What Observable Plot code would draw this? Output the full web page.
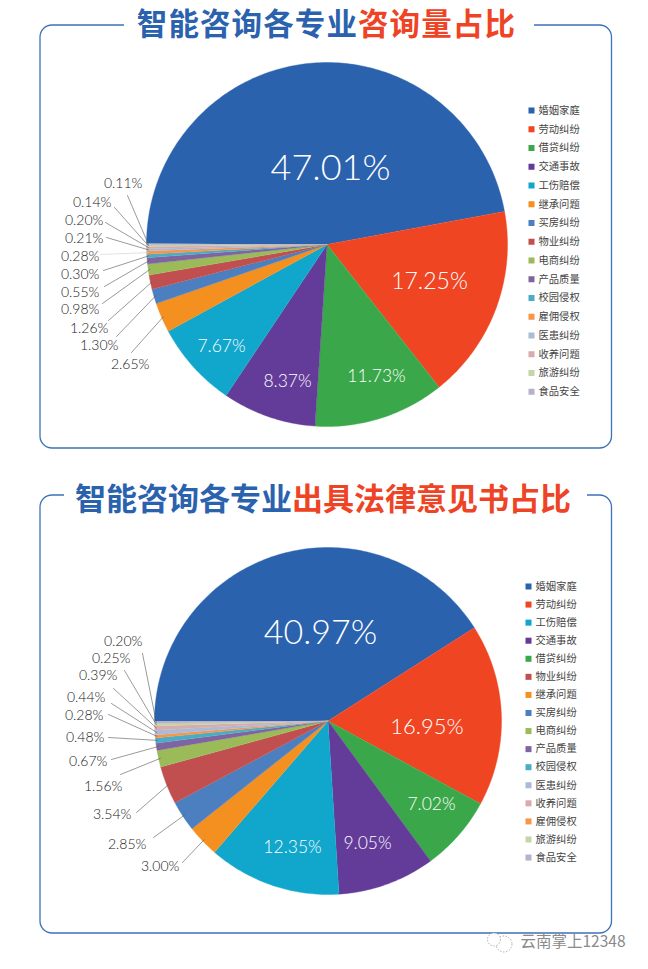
<!DOCTYPE html>
<html><head><meta charset="utf-8">
<style>
html,body{margin:0;padding:0;background:#fff}
#chart{position:relative;width:648px;height:969px;overflow:hidden}
.title{position:absolute;white-space:nowrap;font-family:'Noto Sans CJK SC',sans-serif;font-weight:700;color:#2b62ae}
.title span{color:#ee4425}
</style>
<script src="https://cdn.jsdelivr.net/npm/d3@7"></script>
<script src="https://cdn.jsdelivr.net/npm/@observablehq/plot@0.6"></script>
</head><body><div id="chart">
<div class="title" style="left:136.8px;top:7px;font-size:30.5px;line-height:30.5px;letter-spacing:1.1px">智能咨询各专业<span>咨询量占比</span></div>
<div class="title" style="left:75px;top:481px;font-size:31px;line-height:31px">智能咨询各专业<span>出具法律意见书占比</span></div>
</div>
<script>
// ---- data
const pieOrderA = ["婚姻家庭","劳动纠纷","借贷纠纷","交通事故","工伤赔偿","继承问题","买房纠纷","物业纠纷","电商纠纷","产品质量","校园侵权","雇佣侵权","医患纠纷","收养问题","旅游纠纷","食品安全"];
const valuesA = [47.01,17.25,11.73,8.37,7.67,2.65,1.30,1.26,0.98,0.55,0.30,0.28,0.21,0.20,0.14,0.11];
const pieOrderB = ["婚姻家庭","劳动纠纷","借贷纠纷","交通事故","工伤赔偿","继承问题","买房纠纷","物业纠纷","电商纠纷","产品质量","校园侵权","雇佣侵权","医患纠纷","收养问题","旅游纠纷","食品安全"];
const valuesB = [40.97,16.95,7.02,9.05,12.35,3.00,2.85,3.54,1.56,0.67,0.48,0.28,0.44,0.39,0.25,0.20];
const legendA = pieOrderA;
const legendB = ["婚姻家庭","劳动纠纷","工伤赔偿","交通事故","借贷纠纷","物业纠纷","继承问题","买房纠纷","电商纠纷","产品质量","校园侵权","医患纠纷","收养问题","雇佣侵权","旅游纠纷","食品安全"];
const palette = ["#2b62ae","#f04523","#3aa84a","#633b98","#11a6cb","#f39020","#4c7fc0","#c24f4f","#9bbb59","#8064a2","#4bacc6","#f79646","#aabbd6","#d9aaae","#c5d5a5","#b8b0cc"];

// ---- layout of the annotations (pixels on the page)
const pieA = {cx:326.5, cy:244, rx:180.5, ry:182, start:-89.7};
const pieB = {cx:327.5, cy:720.5, rx:173.5, ry:173.5, start:-90};
const innerA = [[330,168,36],[429,281,23],[376,376,17.5],[287,381,17.5],[221,346,17.5]];
const innerB = [[320,633,34],[426.5,726,22],[431,804,17.5],[367,843,17.5],[292,847,17.5]];
// right edge x, centre y, leader start x, leader start y; listed top to bottom
const outerA = [[142,183,127,195],[111,202,114,207],[103,220,105,222],[103,238,106,237],[99,256,100,254],[99,274,103,270],[99,292,104,286],[99,309,102,303],[108,328,108,320],[118,345,116,336],[149,364,131,352]];
const outerB = [[142,641,142,653],[130,658,124,670],[117,675,113,688],[105,697,111,703],[103,715,108,714],[104,737,108,737],[107,761,111,759],[122,786,120,774],[131,814,136,812],[146,844,153,837],[179,866,182,862]];
const legendPosA = {sx:531, tx:538, y0:110, dy:18.75};
const legendPosB = {sx:528, tx:535, y0:586, dy:18.07};

const latin = "Lato, 'Noto Sans', sans-serif";
const cjk = "'Noto Sans CJK SC', sans-serif";
const fmt = v => v.toFixed(2) + "%";

function layoutPie(names, values, p) {
  const s0 = p.start*Math.PI/180;
  const arcs = d3.pie().sort(null).startAngle(s0).endAngle(s0 + 2*Math.PI)(values);
  const at = (a, k) => [p.cx + k*p.rx*Math.sin(a), p.cy - k*p.ry*Math.cos(a)];
  const poly = [], mids = [];
  arcs.forEach((s, i) => {
    const name = names[i];
    poly.push({name, k:i, xy:[p.cx,p.cy]});
    const n = Math.max(2, Math.ceil((s.endAngle - s.startAngle)*60));
    for (let j = 0; j <= n; j++) {
      const a = s.startAngle + (s.endAngle - s.startAngle)*j/n;
      poly.push({name, k:i, xy:at(a, 1)});
    }
    mids.push({name, value:values[i], edge:at((s.startAngle+s.endAngle)/2, 0.99)});
  });
  return {poly, mids};
}

function chartMarks(names, values, p, inner, outer, legend, lp) {
  const {poly, mids} = layoutPie(names, values, p);
  const small = mids.slice(5).reverse();         // labelled from the top down
  const leaders = small.flatMap((m, i) => [
    {i, x:outer[i][2], y:outer[i][3], soft:m.value===0.28 && p===pieA},
    {i, x:m.edge[0], y:m.edge[1], soft:m.value===0.28 && p===pieA}]);
  return [
    Plot.line(poly, {x:d=>d.xy[0], y:d=>d.xy[1], z:"k", fill:"name", stroke:"name", strokeWidth:0.4}),
    Plot.line(leaders, {x:"x", y:"y", z:"i", stroke:d=>d.soft?"#cfcfcf":"#555", strokeWidth:0.6}),
    Plot.text(mids.slice(0,5), {x:(d,i)=>inner[i][0], y:(d,i)=>inner[i][1], text:d=>fmt(d.value),
      fontSize:(d,i)=>inner[i][2], fill:"#fff", fontFamily:latin, fontWeight:300}),
    Plot.text(small, {x:(d,i)=>outer[i][0], y:(d,i)=>outer[i][1], text:d=>fmt(d.value),
      textAnchor:"end", fontSize:14, fill:"#222", fontFamily:latin, fontWeight:300}),
    Plot.dot(legend, {x:lp.sx, y:(d,i)=>lp.y0+i*lp.dy, symbol:"square", r:3.4, fill:d=>d}),
    Plot.text(legend, {x:lp.tx, y:(d,i)=>lp.y0+i*lp.dy, text:d=>d, textAnchor:"start",
      fontSize:10.3, fill:"#444", fontFamily:cjk})
  ];
}

function frameMarks(y1, y2, gap) {
  return [
    Plot.rect([0], {x1:40, x2:611.5, y1, y2, rx:12, fill:"none", stroke:"#3e72b8", strokeWidth:1.3}),
    Plot.rect([0], {x1:gap[0], x2:gap[1], y1:y1-3, y2:y1+3, fill:"#fff"})
  ];
}

const plot = Plot.plot({
  width:648, height:969, margin:0,
  x:{domain:[0,648], range:[0,648], axis:null},
  y:{domain:[0,969], range:[0,969], axis:null},
  color:{domain:pieOrderA, range:palette},
  style:{background:"transparent"},
  marks:[
    ...frameMarks(25, 448, [124,534]),
    ...frameMarks(495, 933, [64,587]),
    ...chartMarks(pieOrderA, valuesA, pieA, innerA, outerA, legendA, legendPosA),
    ...chartMarks(pieOrderB, valuesB, pieB, innerB, outerB, legendB, legendPosB),
    Plot.dot([0], {x:503.5, y:943.5, r:8, fill:"#fff", stroke:"#999", strokeWidth:0.8, strokeDasharray:"1.5 1.5"}),
    Plot.dot([0], {x:493.5, y:939, r:6.5, fill:"#fff", stroke:"#999", strokeWidth:0.8, strokeDasharray:"1.5 1.5"}),
    Plot.text(["云南掌上12348"], {x:520, y:942, text:d=>d, textAnchor:"start", fontSize:15.5, fill:"#8a8a8a", fontFamily:cjk})
  ]
});
document.getElementById("chart").prepend(plot);
</script></body></html>
